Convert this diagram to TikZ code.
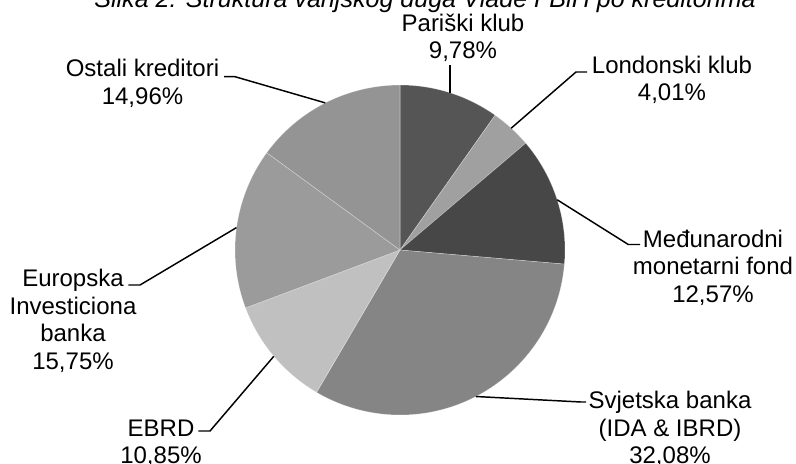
\documentclass[tikz,border=0pt]{standalone}
\usepackage{fontspec}
\setmainfont{Liberation Sans}
\usepackage{tikz}

\begin{document}
\begin{tikzpicture}[x=0.75pt,y=0.75pt,yscale=-1,xscale=1,
  sector/.style={draw=white,draw opacity=0.4,line width=0.4pt},
  leader/.style={draw=black,line width=1.1pt},
  lbl/.style={font=\fontsize{18}{20.6}\selectfont,align=center,anchor=base,inner sep=0.75pt}]
\useasboundingbox (0,0) rectangle (796,464);

\coordinate (c) at (400,250);

%Shape: Sector [Pariski klub]
\fill [sector,fill={rgb, 255:red, 85; green, 85; blue, 85 }] (c) -- ++(-90:165) arc (-90:-54.79:165) -- cycle ;
%Shape: Sector [Londonski klub]
\fill [sector,fill={rgb, 255:red, 160; green, 160; blue, 160 }] (c) -- ++(-54.79:165) arc (-54.79:-40.36:165) -- cycle ;
%Shape: Sector [MMF]
\fill [sector,fill={rgb, 255:red, 71; green, 71; blue, 71 }] (c) -- ++(-40.36:165) arc (-40.36:4.9:165) -- cycle ;
%Shape: Sector [Svjetska banka]
\fill [sector,fill={rgb, 255:red, 133; green, 133; blue, 133 }] (c) -- ++(4.9:165) arc (4.9:120.38:165) -- cycle ;
%Shape: Sector [EBRD]
\fill [sector,fill={rgb, 255:red, 192; green, 192; blue, 192 }] (c) -- ++(120.38:165) arc (120.38:159.44:165) -- cycle ;
%Shape: Sector [EIB]
\fill [sector,fill={rgb, 255:red, 155; green, 155; blue, 155 }] (c) -- ++(159.44:165) arc (159.44:216.14:165) -- cycle ;
%Shape: Sector [Ostali]
\fill [sector,fill={rgb, 255:red, 148; green, 148; blue, 148 }] (c) -- ++(216.14:165) arc (216.14:270:165) -- cycle ;

% Text Node
\draw (757,7.5) node (title) [anchor=base east][inner sep=0.75pt] [font=\fontsize{18.8}{21}\selectfont\itshape] {Slika 2: Struktura vanjskog duga Vlade FBiH po kreditorima};
% Text Node
\draw (463,58.5) node (paris) [lbl] {Pariški klub\\9,78\%};
% Text Node
\draw (672,100.5) node (london) [lbl] {Londonski klub\\4,01\%};
% Text Node
\draw (713,302) node (mmf) [lbl] {Međunarodni\\monetarni fond\\12,57\%};
% Text Node
\draw (670,463.5) node (wb) [lbl] {Svjetska banka\\(IDA \& IBRD)\\32,08\%};
% Text Node
\draw (161,463.5) node (ebrd) [lbl] {EBRD\\10,85\%};
% Text Node
\draw (73,369.3) node (eib) [lbl] {Europska\\Investiciona\\banka\\15,75\%};
% Text Node
\draw (142.5,104) node (ostali) [lbl] {Ostali kreditori\\14,96\%};

%Leader points
\coordinate (paris-e) at (449.9,92.7);
\coordinate (paris-t) at (449.9,65);
\coordinate (london-e) at (511.2,128.2);
\coordinate (london-b) at (576,72);
\coordinate (london-t) at (587,72);
\coordinate (mmf-e) at (557.2,199.8);
\coordinate (mmf-b) at (628.3,244.5);
\coordinate (mmf-t) at (640,244.5);
\coordinate (wb-e) at (475.9,396.5);
\coordinate (wb-b) at (581,402);
\coordinate (wb-t) at (586,402);
\coordinate (ebrd-e) at (273.8,356.3);
\coordinate (ebrd-b) at (210,431);
\coordinate (ebrd-t) at (198.3,431);
\coordinate (eib-e) at (236.5,227.6);
\coordinate (eib-b) at (140,285);
\coordinate (eib-t) at (128.3,285);
\coordinate (ostali-e) at (325.3,102.9);
\coordinate (ostali-b) at (235,76.7);
\coordinate (ostali-t) at (224,76.7);

%Straight Lines
\draw [leader] (paris-e) -- (paris-t) ;
\draw [leader] (london-e) -- (london-b) -- (london-t) ;
\draw [leader] (mmf-e) -- (mmf-b) -- (mmf-t) ;
\draw [leader] (wb-e) -- (wb-b) -- (wb-t) ;
\draw [leader] (ebrd-e) -- (ebrd-b) -- (ebrd-t) ;
\draw [leader] (eib-e) -- (eib-b) -- (eib-t) ;
\draw [leader] (ostali-e) -- (ostali-b) -- (ostali-t) ;

\end{tikzpicture}
\end{document}
